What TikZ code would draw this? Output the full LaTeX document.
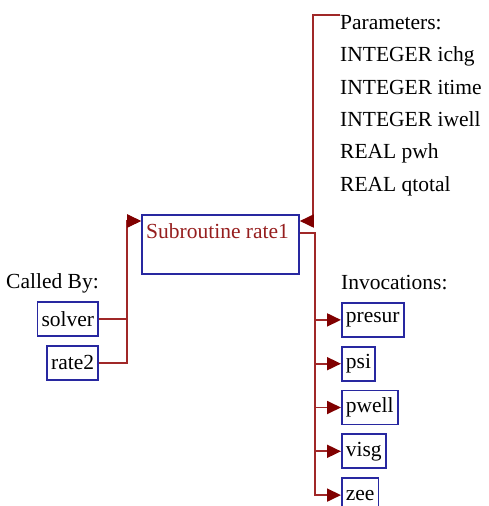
\documentclass[tikz,border=0pt]{standalone}
\usepackage{fontspec}
\setmainfont{Liberation Serif}
\usetikzlibrary{positioning,arrows.meta}

\definecolor{linkred}{RGB}{160,40,40}
\definecolor{tipred}{RGB}{128,0,0}
\definecolor{boxblue}{RGB}{40,40,160}
\definecolor{titlered}{RGB}{150,30,30}

\begin{document}
\begin{tikzpicture}[
% first : the style of the scheme
    x=1pt, y=-1pt,
    every node/.style={font=\fontsize{21.5}{24}\selectfont},
    routine/.style={
        rectangle,
        draw=boxblue,
        line width=1.8pt,
        inner xsep=4pt,
        inner ysep=0pt,
        minimum height=34pt
    },
    mainbox/.style={
        rectangle,
        draw=boxblue,
        line width=1.8pt,
        minimum width=157pt,
        minimum height=59pt
    },
    plain/.style={inner sep=0pt, align=left},
    link/.style={draw=linkred, line width=1.8pt},
    >={Triangle[length=14pt,width=13pt,color=tipred]}
]
\useasboundingbox (0,0) rectangle (488,506);

% the routine itself
\node[mainbox, anchor=north west,
    label={[titlered, anchor=north west, inner xsep=5pt, inner ysep=9pt]north west:Subroutine rate1}]
    (rate1) at (141,214) {};

% callers
\node[routine, anchor=east] (solver) at (99,319) {solver};
\node[routine, below left=8pt and 0pt of solver.south east] (rate2) {rate2};
\node[plain, above left=8pt and 0pt of solver.north east] (calledby) {Called By:};

% parameters
\node[plain, anchor=north west, font=\fontsize{21.5}{32.4}\selectfont] (params) at (340,15)
    {Parameters:\\INTEGER ichg\\INTEGER itime\\INTEGER iwell\\REAL pwh\\REAL qtotal};

% invocations
\node[routine, anchor=north west] (presur) at (341,302) {presur};
\node[routine, below right=8pt and 0pt of presur.south west] (psi) {psi};
\node[routine, below right=8pt and 0pt of psi.south west] (pwell) {pwell};
\node[routine, below right=8pt and 0pt of pwell.south west] (visg) {visg};
\node[routine, below right=8pt and 0pt of visg.south west] (zee) {zee};
\node[plain, above right=12pt and 0pt of presur.north west] (invlabel) {Invocations:};

% links
\coordinate (callin) at ([yshift=-7pt]rate1.north west);
\coordinate (parin) at ([yshift=-7pt]rate1.north east);
\coordinate (callout) at ([yshift=-19pt]rate1.north east);

\draw[link,->] (solver.east) -- ++(28,0) |- (callin);
\draw[link,->] (rate2.east) -- ++(28,0) |- (callin);
\draw[link,->] (params.north west) -- ++(-27,0) |- (parin);
\foreach \callee in {presur,psi,pwell,visg,zee}
    \draw[link,->] (callout) -- ++(15,0) |- (\callee.west);

\end{tikzpicture}
\end{document}
